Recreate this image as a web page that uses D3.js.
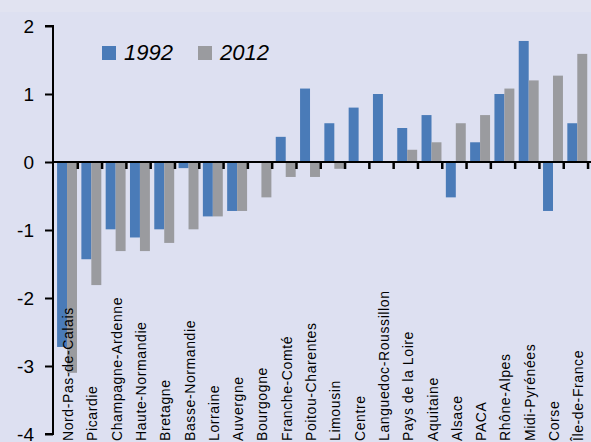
<!DOCTYPE html>
<html>
<head>
<meta charset="utf-8">
<script src="https://cdn.jsdelivr.net/npm/d3@7"></script>
<style>
  body { margin: 0; background: #dde0f1; }
  svg { display: block; font-family: "Liberation Sans", Arial, sans-serif; }
</style>
</head>
<body>
<div id="chart"></div>
<script>
// regions, ordered as in the source chart
var regions = ["Nord-Pas-de-Calais", "Picardie", "Champagne-Ardenne", "Haute-Normandie",
    "Bretagne", "Basse-Normandie", "Lorraine", "Auvergne", "Bourgogne", "Franche-Comté",
    "Poitou-Charentes", "Limousin", "Centre", "Languedoc-Roussillon", "Pays de la Loire",
    "Aquitaine", "Alsace", "PACA", "Rhône-Alpes", "Midi-Pyrénées", "Corse", "Île-de-France"];
var v1992 = [-2.72, -1.43, -0.99, -1.11, -0.99, -0.09, -0.80, -0.72, 0, 0.37,
    1.08, 0.57, 0.80, 1.00, 0.50, 0.69, -0.52, 0.29, 1.00, 1.78, -0.72, 0.57];
var v2012 = [-3.10, -1.81, -1.31, -1.31, -1.19, -0.99, -0.80, -0.72, -0.52, -0.22,
    -0.22, -0.10, 0, 0, 0.18, 0.29, 0.57, 0.69, 1.08, 1.20, 1.27, 1.59];
var seriesNames = ["1992", "2012"];
var yTicks = [2, 1, 0, -1, -2, -3, -4];

var colors = d3.scaleOrdinal().domain(seriesNames).range(["#4a7bb8", "#9a9b9f"]);

var width = 591, height = 442,
    margin = {top: 26, right: 2, bottom: 8, left: 53};

var svg = d3.select("#chart").append("svg")
    .attr("width", width)
    .attr("height", height);

svg.append("rect")
    .attr("width", width).attr("height", height)
    .attr("fill", "#dde0f1");
svg.append("rect")
    .attr("width", width).attr("height", 12)
    .attr("fill", "#e1e3f1");

var yScale = d3.scaleLinear()
    .domain([-4, 2])
    .range([height - margin.bottom, margin.top]);

var xScale = d3.scaleBand()
    .domain(regions)
    .range([margin.left, width - margin.right])
    .paddingInner(0.18)
    .paddingOuter(0.12)
    .align(0.7);

var xSub = d3.scaleBand()
    .domain(seriesNames)
    .range([0, xScale.bandwidth()]);

// boundaries between categories, for the tick marks on the zero line
var step = xScale.step();
var xEdge = d3.scaleLinear()
    .domain([0, regions.length])
    .range([margin.left, margin.left + step * regions.length]);

var rows = regions.map(function(r, i) {
    return {region: r, values: [
        {series: "1992", value: v1992[i]},
        {series: "2012", value: v2012[i]}
    ]};
});

// bars
var groups = svg.append("g").selectAll("g")
    .data(rows)
    .enter().append("g")
    .attr("transform", function(d) { return "translate(" + xScale(d.region) + ",0)"; });

groups.selectAll("rect")
    .data(function(d) { return d.values; })
    .enter().append("rect")
    .attr("x", function(d) { return xSub(d.series); })
    .attr("width", xSub.bandwidth())
    .attr("y", function(d) { return yScale(Math.max(0, d.value)); })
    .attr("height", function(d) { return Math.abs(yScale(d.value) - yScale(0)); })
    .attr("fill", function(d) { return colors(d.series); });

// y axis
var yAxis = d3.axisLeft(yScale)
    .tickValues(yTicks)
    .tickSize(8)
    .tickPadding(11)
    .tickFormat(d3.format("d"));

var gy = svg.append("g")
    .attr("transform", "translate(" + margin.left + ",0)")
    .call(yAxis);
gy.select(".domain").attr("stroke", "#000").attr("stroke-width", 2)
    .attr("d", "M-8," + yScale(2) + "H0V" + yScale(-4) + "H-8");
gy.selectAll(".tick line").attr("stroke", "#000").attr("stroke-width", 2);
gy.selectAll(".tick text")
    .attr("fill", "#000")
    .style("font-size", "19px")
    .text(function(d) { return d < 0 ? "-" + Math.abs(d) : d; });

// zero line with category ticks
var xAxis = d3.axisBottom(xEdge)
    .tickValues(d3.range(1, regions.length + 1))
    .tickSizeInner(7)
    .tickSizeOuter(0)
    .tickFormat("");

var gx = svg.append("g")
    .attr("transform", "translate(0," + yScale(0) + ")")
    .call(xAxis);
gx.select(".domain").attr("stroke", "#000").attr("stroke-width", 2)
    .attr("d", "M" + margin.left + ",0H" + width);
gx.selectAll(".tick line").attr("stroke", "#000").attr("stroke-width", 2.5);

// category labels, rotated
svg.append("g").selectAll("text")
    .data(regions)
    .enter().append("text")
    .attr("transform", function(d) {
        return "translate(" + (xScale(d) + xScale.bandwidth() / 2 + 6) + "," + (height - 1) + ") rotate(-90)";
    })
    .style("font-size", "14px")
    .style("letter-spacing", "0.6px")
    .attr("fill", "#000")
    .text(function(d) { return d; });

// legend
var legend = svg.append("g").selectAll("g")
    .data(seriesNames)
    .enter().append("g")
    .attr("transform", function(d, i) { return "translate(" + (102 + i * 96) + ",46)"; });

legend.append("rect")
    .attr("width", 14).attr("height", 14)
    .attr("fill", function(d) { return colors(d); });

legend.append("text")
    .attr("x", 22)
    .attr("y", 14)
    .style("font-size", "22px")
    .style("font-style", "italic")
    .attr("fill", "#000")
    .text(function(d) { return d; });
</script>
</body>
</html>
